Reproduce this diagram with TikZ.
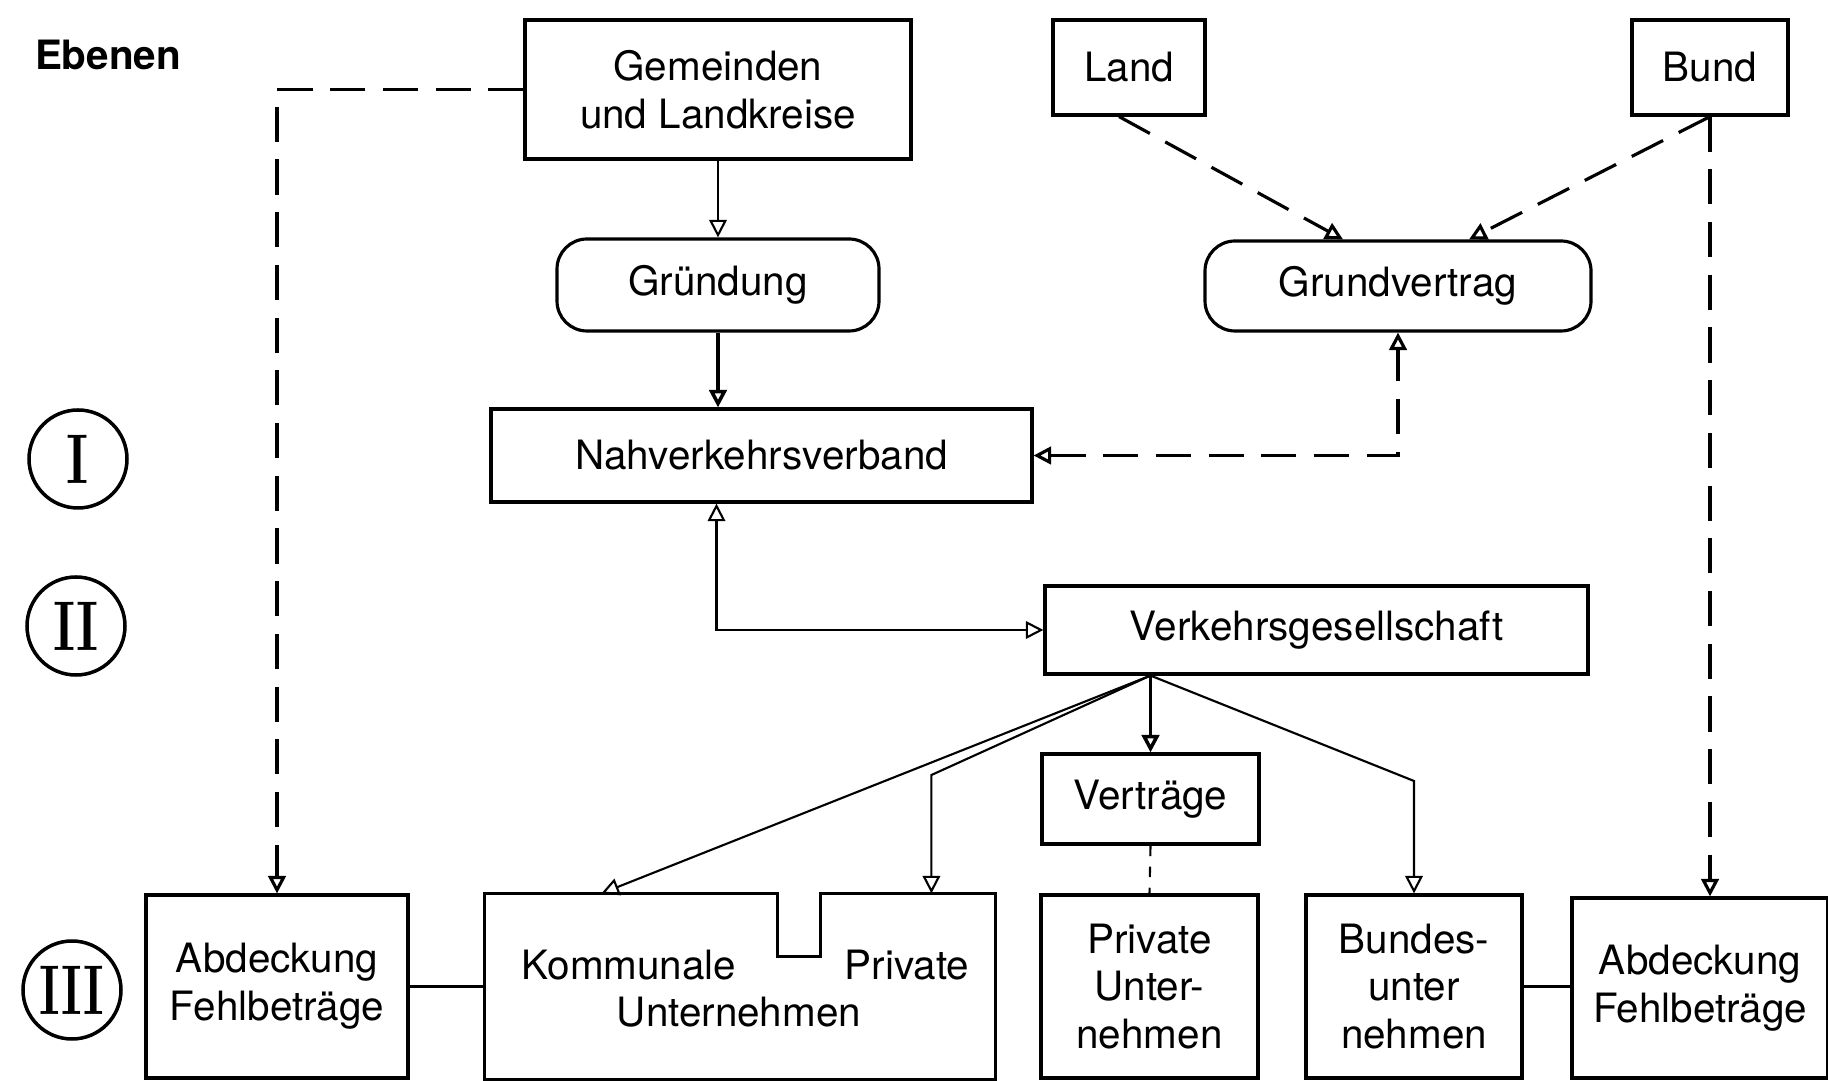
\documentclass[tikz,border=0pt]{standalone}
\usepackage{fontspec}
\setsansfont{TeX Gyre Heros}
\usetikzlibrary{arrows.meta}

\begin{document}
\begin{tikzpicture}[font=\sffamily\fontsize{11.5}{13.6}\selectfont,
  >={Triangle[open,length=5pt,width=5pt]},
  box/.style={draw, line width=0.9pt, inner sep=0pt, align=center},
  pill/.style={box, rounded corners=0.3cm},
  level/.style={draw, circle, line width=1pt, minimum size=0.98cm, inner sep=0pt,
    font=\rmfamily\bfseries\fontsize{20}{20}\selectfont},
  link/.style={line width=0.6pt},
  dlink/.style={line width=0.9pt, dash pattern=on 10pt off 5pt}]
  \useasboundingbox (0,0) rectangle (18.28,10.8);
  % Levels (left column)
  \node[font=\sffamily\bfseries\fontsize{11.5}{13.6}\selectfont] (ebenen) at (1.08,10.25) {Ebenen};
  \node[level] (lvI) at (0.78,6.21) {\scalebox{0.75}[1]{I}};
  \node[level] (lvII) at (0.76,4.54) {\scalebox{0.75}[1]{II}};
  \node[level] (lvIII) at (0.72,0.90) {\scalebox{0.7}[1]{III}};
  % Upper boxes
  \node[box, minimum width=3.86cm, minimum height=1.39cm] (gem) at (7.18,9.905) {Gemeinden\\und Landkreise};
  \node[box, minimum width=1.52cm, minimum height=0.95cm] (land) at (11.29,10.125) {Land};
  \node[box, minimum width=1.56cm, minimum height=0.95cm] (bund) at (17.10,10.125) {Bund};
  \node[pill, minimum width=3.22cm, minimum height=0.92cm] (grue) at (7.18,7.95) {Gründung};
  \node[pill, minimum width=3.86cm, minimum height=0.90cm] (gv) at (13.98,7.94) {Grundvertrag};
  \node[box, minimum width=5.41cm, minimum height=0.93cm] (nvv) at (7.615,6.245) {Nahverkehrsverband};
  \node[box, minimum width=5.43cm, minimum height=0.88cm] (vg) at (13.165,4.50) {Verkehrsgesellschaft};
  \node[box, minimum width=2.17cm, minimum height=0.90cm] (vert) at (11.505,2.81) {Verträge};
  % Lower boxes
  \node[box, minimum width=2.62cm, minimum height=1.83cm] (abl) at (2.77,0.935) {Abdeckung\\Fehlbeträge};
  \node[box, draw=none, minimum width=5.08cm, minimum height=1.83cm] (kom) at (7.40,0.935) {};
  \draw[line width=0.9pt] (kom.south west) -- (kom.north west) -- ++(2.93,0) -- ++(0,-0.63)
    -- ++(0.43,0) -- ++(0,0.63) -| (kom.south east) -- cycle;
  \node (komA) at (6.29,1.15) {Kommunale};
  \node (komB) at (9.07,1.15) {Private};
  \node (komC) at (7.39,0.68) {Unternehmen};
  \node[box, minimum width=2.17cm, minimum height=1.83cm] (pu) at (11.495,0.935) {Private\\Unter-\\nehmen};
  \node[box, minimum width=2.16cm, minimum height=1.83cm] (bu) at (14.14,0.935) {Bundes-\\unter\\nehmen};
  \node[box, minimum width=2.56cm, minimum height=1.80cm] (abr) at (17.0,0.92) {Abdeckung\\Fehlbeträge};
  % Connectors
  \draw[dlink,->] (gem.west) -| (abl.north);
  \draw[link,->] (gem) -- (grue);
  \draw[link,->,line width=1pt] (grue.south) -- (grue.south |- nvv.north);
  \draw[dlink,->] ([xshift=-1mm]land.south) -- ([xshift=-5.5mm]gv.north);
  \draw[dlink,->] (bund.south) -- ([xshift=7.1mm]gv.north);
  \draw[dlink,->] (bund.south) -- (bund.south |- abr.north);
  \draw[dlink,<->] (nvv.east) -| (gv.south);
  \draw[link,<->] ([xshift=-4.5mm]nvv.south) |- (vg.west);
  % Fan out of the Verkehrsgesellschaft
  \coordinate (fan) at (vert.north |- vg.south);
  \coordinate (komin) at ([xshift=11.7mm]kom.north west);
  \coordinate (privin) at ([xshift=44.7mm]kom.north west);
  \coordinate (privbend) at (privin |- 0,3.05);
  \coordinate (bubend) at (bu.north |- 0,2.99);
  \draw[link,->] (fan) -- (komin);
  \draw[link,->] (fan) -- (privbend) -- (privin);
  \draw[link,->,line width=1pt] (fan) -- (vert.north);
  \draw[link,->] (fan) -- (bubend) -- (bu.north);
  \draw[link,dashed] (vert.south) -- (pu.north);
  \draw[link] (abl.east) -- (abl.east -| kom.west);
  \draw[link] (bu.east) -- (bu.east -| abr.west);
\end{tikzpicture}
\end{document}
